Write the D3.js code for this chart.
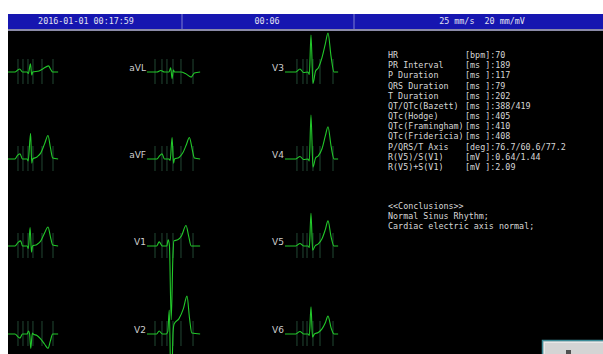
<!DOCTYPE html>
<html>
<head>
<meta charset="utf-8">
<script src="https://cdn.jsdelivr.net/npm/d3@7/dist/d3.min.js"></script>
<style>
  html, body { margin: 0; padding: 0; background: #ffffff; }
  svg { display: block; }
  .mono { font-family: "DejaVu Sans Mono", "Liberation Mono", monospace; }
</style>
</head>
<body>
<svg id="ecg" width="603" height="354"></svg>
<script>
// ---- Header ----
const headerTexts = ["2016-01-01 00:17:59", "00:06", "25 mm/s  20 mm/mV"];

// ---- Lead grid (column-major: I..aVR | aVL..V2 | V3..V6) ----
const leadNames = [
  ["I", "II", "III", "aVR"],
  ["aVL", "aVF", "V1", "V2"],
  ["V3", "V4", "V5", "V6"]
];
const showLabel = [false, true, true];

// Median beats: [time ms, amplitude mV]
const leadI   = [[0,0],[156,0],[200,0.04],[230,0.06],[273,0],[345,0],[365,-0.03],[398,0.16],[418,-0.06],[432,0],[531,0.02],[600,0.07],[680,0.12],[715,0.05],[745,0],[830,0]];
const leadII  = [[0,0],[156,0],[195,0.07],[234,0.1],[273,0],[345,0],[362,-0.04],[400,0.5],[418,-0.08],[432,0],[500,0.04],[560,0.12],[620,0.3],[672,0.46],[710,0.22],[745,0.02],[830,0]];
const leadIII = [[0,0],[156,0],[205,0.07],[245,0.1],[273,0],[345,0],[365,-0.05],[392,0.36],[414,-0.12],[430,0],[500,0.03],[560,0.1],[620,0.26],[672,0.37],[710,0.18],[745,0.02],[830,0]];
const leadAVR = [[0,0],[156,0],[200,-0.05],[234,-0.08],[273,0],[345,0],[368,0.06],[385,0],[402,-0.28],[428,0.02],[440,0],[500,-0.03],[560,-0.1],[620,-0.2],[672,-0.28],[710,-0.13],[745,0],[830,0]];
const leadAVL = [[0,0],[156,0],[215,0.03],[273,0],[345,0],[370,0.08],[392,-0.13],[412,0.04],[430,0],[531,0],[600,-0.03],[690,-0.1],[740,-0.02],[830,0]];
const leadAVF = [[0,0],[156,0],[195,0.06],[234,0.1],[273,0],[345,0],[362,-0.03],[392,0.42],[414,-0.08],[430,0],[500,0.03],[560,0.12],[615,0.28],[662,0.42],[705,0.2],[740,0.02],[830,0]];
const leadV1  = [[0,0],[150,0],[190,0.08],[240,0],[310,0],[330,0.12],[350,0.02],[378,-1.44],[405,-0.2],[420,0.1],[480,0.12],[540,0.2],[610,0.4],[650,0.2],[690,0],[830,0]];
const leadV2  = [[0,0],[150,0],[190,0.06],[240,0],[300,0],[325,0.05],[348,0.47],[378,-1.3],[408,0.05],[425,0.2],[500,0.3],[570,0.5],[625,0.74],[665,0.3],[700,0.02],[830,0]];
const leadV3  = [[0,0],[170,0],[234,0.06],[290,-0.01],[360,0],[380,-0.05],[406,0.72],[437,-0.22],[478,0.02],[520,0.08],[578,0.28],[630,0.55],[672,0.76],[720,0.3],[766,0],[830,0]];
const leadV4  = [[0,0],[170,0],[234,0.05],[290,-0.01],[360,0],[380,-0.04],[406,0.86],[437,-0.16],[478,0.02],[520,0.06],[578,0.2],[630,0.45],[672,0.63],[720,0.25],[766,0],[830,0]];
const leadV5  = [[0,0],[170,0],[234,0.05],[290,0],[360,0],[380,-0.03],[406,0.64],[432,-0.08],[470,0],[520,0.04],[578,0.14],[630,0.32],[672,0.49],[720,0.18],[766,0],[830,0]];
const leadV6  = [[0,0],[170,0],[234,0.05],[290,0],[360,0],[380,-0.03],[406,0.53],[430,-0.06],[460,0],[520,0.03],[578,0.1],[630,0.22],[672,0.35],[720,0.12],[766,0],[830,0]];

const leadData = {
  "I": leadI, "II": leadII, "III": leadIII, "aVR": leadAVR,
  "aVL": leadAVL, "aVF": leadAVF, "V1": leadV1, "V2": leadV2,
  "V3": leadV3, "V4": leadV4, "V5": leadV5, "V6": leadV6
};

// Fiducial marks per column (ms): P on, P off, QRS on, QRS off, T on, T off
const marksCol1 = [203, 281, 359, 437, 578, 750];
const marksCol2 = [125, 234, 312, 406, 531, 719];
const marksCol3 = [187, 281, 344, 437, 547, 750];
const marksByCol = [marksCol1, marksCol2, marksCol3];

// ---- Measurements ----
const paramLabels = ["HR", "PR Interval", "P Duration", "QRS Duration", "T Duration",
  "QT/QTc(Bazett)", "QTc(Hodge)", "QTc(Framingham)", "QTc(Fridericia)",
  "P/QRS/T Axis", "R(V5)/S(V1)", "R(V5)+S(V1)"];
const paramUnits = ["[bpm]", "[ms ]", "[ms ]", "[ms ]", "[ms ]", "[ms ]", "[ms ]",
  "[ms ]", "[ms ]", "[deg]", "[mV ]", "[mV ]"];
const paramValues = ["70", "189", "117", "79", "202", "388/419", "405", "410", "408",
  "76.7/60.6/77.2", "0.64/1.44", "2.09"];
const conclusions = ["<<Conclusions>>", "Normal Sinus Rhythm;", "Cardiac electric axis normal;"];

// ---- Drawing ----
const W = 603, H = 354;
const svg = d3.select("#ecg");

// 25 mm/s and 20 mm/mV on screen
const pxPerMs = 0.064;
const pxPerMv = 51.2;
const beatSpan = 830;
const colX = [5, 147, 285];
const rowBase = [72, 159, 246, 334];

// screen background
svg.append("rect").attr("x", 8).attr("y", 14).attr("width", W - 8).attr("height", H - 14).attr("fill", "#000000");

const plot = svg.append("g");

const line = d3.line().curve(d3.curveMonotoneX);

leadNames.forEach((col, ci) => {
  const x = d3.scaleLinear().domain([0, beatSpan]).range([colX[ci], colX[ci] + beatSpan * pxPerMs]);
  col.forEach((name, ri) => {
    const base = rowBase[ri];
    const y = d3.scaleLinear().domain([-1, 1]).range([base + pxPerMv, base - pxPerMv]);
    const g = plot.append("g");
    // fiducial marks
    g.selectAll("line.mark").data(marksByCol[ci]).join("line")
      .attr("class", "mark")
      .attr("x1", d => x(d)).attr("x2", d => x(d))
      .attr("y1", base - 13).attr("y2", base + 12)
      .attr("stroke", "#2b5a40").attr("stroke-width", 1).attr("opacity", 0.8);
    // trace
    line.x(d => x(d[0])).y(d => y(d[1]));
    g.append("path").datum(leadData[name])
      .attr("d", line)
      .attr("fill", "none").attr("stroke", "#22c82a").attr("stroke-width", 1.1)
      .attr("stroke-linejoin", "round");
    if (showLabel[ci]) {
      g.append("text")
        .attr("x", colX[ci] - 1).attr("y", base - 1)
        .attr("text-anchor", "end")
        .attr("font-family", "'DejaVu Sans', sans-serif")
        .attr("font-size", 9)
        .attr("fill", "#cfcfcf")
        .text(name);
    }
  });
});

// measurement panel
const panel = svg.append("g").attr("class", "mono").attr("font-size", 8.4).attr("fill", "#d6d6d6");
paramLabels.forEach((lab, i) => {
  const yy = 58 + i * 10.17;
  panel.append("text").attr("x", 388).attr("y", yy).text(lab);
  panel.append("text").attr("x", 465).attr("y", yy).text(paramUnits[i] + ":" + paramValues[i]);
});
conclusions.forEach((c, i) => {
  panel.append("text").attr("x", 388).attr("y", 209 + i * 10.2).text(c);
});

// header bar
svg.append("rect").attr("x", 8).attr("y", 14).attr("width", W - 8).attr("height", 15).attr("fill", "#1616b0");
svg.append("rect").attr("x", 8).attr("y", 29).attr("width", W - 8).attr("height", 2).attr("fill", "#8a8aa8");
const dividers = [182, 354];
svg.selectAll("line.div").data(dividers).join("line")
  .attr("class", "div")
  .attr("x1", d => d).attr("x2", d => d).attr("y1", 14).attr("y2", 29)
  .attr("stroke", "#7d7dd0").attr("stroke-width", 1);
const headerCenters = [86, 267, 482];
svg.selectAll("text.hdr").data(headerTexts).join("text")
  .attr("class", "hdr mono")
  .attr("x", (d, i) => headerCenters[i]).attr("y", 24)
  .attr("text-anchor", "middle").attr("font-size", 8.4)
  .attr("fill", "#e2e2f0")
  .style("white-space", "pre")
  .text(d => d);

// left white margin
svg.append("rect").attr("x", 0).attr("y", 0).attr("width", 8).attr("height", H).attr("fill", "#ffffff");

// corner of an overlapping window
const win = svg.append("g");
win.append("rect").attr("x", 542.5).attr("y", 340.5).attr("width", 62).attr("height", 20)
  .attr("fill", "#d4d4d4").attr("stroke", "#3c8c98").attr("stroke-width", 1.5);
win.append("rect").attr("x", 544.5).attr("y", 342.5).attr("width", 60).attr("height", 18)
  .attr("fill", "none").attr("stroke", "#e8e8e8").attr("stroke-width", 1);
win.append("rect").attr("x", 566).attr("y", 350).attr("width", 5).attr("height", 4).attr("fill", "#505050");
</script>
</body>
</html>
